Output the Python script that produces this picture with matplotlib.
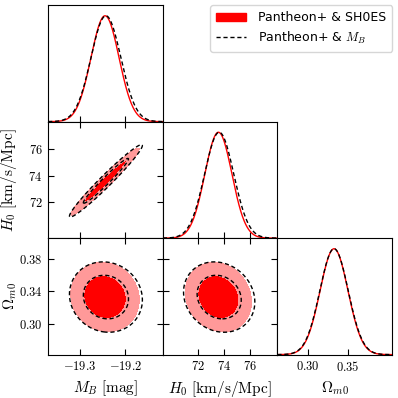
#!/usr/bin/env python3
"""triangle plot of M_B, H0 and Omega_m0"""

import numpy as np
import matplotlib
matplotlib.use('Agg')
import matplotlib.pyplot as plt
from matplotlib.patches import Patch
from matplotlib.lines import Line2D

plt.rcParams['mathtext.fontset'] = 'cm'
plt.rcParams['font.family'] = ['DejaVu Sans']

# parameters: M_B, H0, Omega_m0
labels = [r'$M_B\ [\mathrm{mag}]$', r'$H_0\ [\mathrm{km/s/Mpc}]$',
          r'$\Omega_{m0}$']
legend_names = ['Pantheon+ & SH0ES', r'Pantheon+ & $M_B$']

# posterior summaries
mean_sh0es = [-19.245, 73.56, 0.333]
sigma_sh0es = [0.031, 1.04, 0.0175]
corr_sh0es = [[1.0, 0.975, -0.08],
              [0.975, 1.0, -0.14],
              [-0.08, -0.14, 1.0]]

mean_mb = [-19.243, 73.62, 0.333]
sigma_mb = [0.033, 1.12, 0.0178]
corr_mb = [[1.0, 0.975, -0.08],
           [0.975, 1.0, -0.14],
           [-0.08, -0.14, 1.0]]

limits = [(-19.371, -19.117), (69.28, 78.1), (0.2617, 0.406)]
xticks = [[-19.3, -19.2], [72, 74, 76], [0.30, 0.35]]
xticklabels = [['$-19.3$', '$-19.2$'], ['$72$', '$74$', '$76$'],
               ['$0.30$', '$0.35$']]
yticks = [None, [72, 74, 76], [0.30, 0.34, 0.38]]
yticklabels = [None, ['$72$', '$74$', '$76$'],
               ['$0.30$', '$0.34$', '$0.38$']]

# 2D chi2 levels for 68% and 95%
chi2_levels = [2.2958, 5.9915]


def cov_of(sig, corr):
    sig = np.array(sig)
    return np.array(corr) * np.outer(sig, sig)


def gauss2d(mu, cov, i, j):
    """mahalanobis distance of params (j on x, i on y) on a grid"""
    x = np.linspace(*limits[j], 300)
    y = np.linspace(*limits[i], 300)
    X, Y = np.meshgrid(x, y)
    c = cov[np.ix_([j, i], [j, i])]
    inv = np.linalg.inv(c)
    dx = X - mu[j]
    dy = Y - mu[i]
    r2 = inv[0, 0] * dx**2 + 2 * inv[0, 1] * dx * dy + inv[1, 1] * dy**2
    return X, Y, r2


cov_s = cov_of(sigma_sh0es, corr_sh0es)
cov_m = cov_of(sigma_mb, corr_mb)

fig, axes = plt.subplots(3, 3, figsize=(3.98, 3.98), dpi=100)
fig.subplots_adjust(left=0.121, right=0.985, bottom=0.109, top=0.987,
                    wspace=0, hspace=0)

for i in range(3):
    for j in range(3):
        ax = axes[i, j]
        if j > i:
            ax.axis('off')
            continue
        ax.set_xlim(limits[j])
        ax.tick_params(direction='in', length=4, width=0.8, pad=4,
                       top=(i != j), right=(i != j), labelsize=9)
        ax.set_xticks(xticks[j])
        if i == 2:
            ax.set_xticklabels(xticklabels[j])
            ax.set_xlabel(labels[j], fontsize=11, labelpad=4)
        else:
            ax.set_xticklabels([])
        if i == j:
            x = np.linspace(*limits[j], 400)
            ps = np.exp(-0.5 * ((x - mean_sh0es[j]) / sigma_sh0es[j])**2)
            pm = np.exp(-0.5 * ((x - mean_mb[j]) / sigma_mb[j])**2)
            ax.plot(x, ps, color='red', lw=1.0)
            ax.plot(x, pm, color='black', lw=1.0, ls=(0, (3, 2)))
            ax.set_ylim(0, 1.1)
            ax.set_yticks([])
        else:
            ax.set_ylim(limits[i])
            X, Y, r2 = gauss2d(mean_sh0es, cov_s, i, j)
            ax.contourf(X, Y, r2, levels=[0, chi2_levels[0]],
                        colors=['#ff0000'])
            ax.contourf(X, Y, r2, levels=chi2_levels,
                        colors=['#ff9999'])
            X, Y, r2 = gauss2d(mean_mb, cov_m, i, j)
            ax.contour(X, Y, r2, levels=chi2_levels, colors='black',
                       linewidths=1.0, linestyles=[(0, (3, 2))])
            ax.set_yticks(yticks[i])
            if j == 0:
                ax.set_yticklabels(yticklabels[i])
                ax.set_ylabel(labels[i], fontsize=11)
                ax.yaxis.set_label_coords(-0.255, 0.5)
            else:
                ax.set_yticklabels([])
        for sp in ax.spines.values():
            sp.set_linewidth(0.8)

handles = [Patch(facecolor='red', edgecolor='red'),
           Line2D([], [], color='black', lw=1.0, ls=(0, (3, 2)))]
fig.legend(handles, legend_names, loc='upper right',
           bbox_to_anchor=(0.985, 0.987), borderaxespad=0, fontsize=9,
           handlelength=2.4, handletextpad=0.9, borderpad=0.5,
           labelspacing=0.4)

fig.savefig('out.png', dpi=100)
